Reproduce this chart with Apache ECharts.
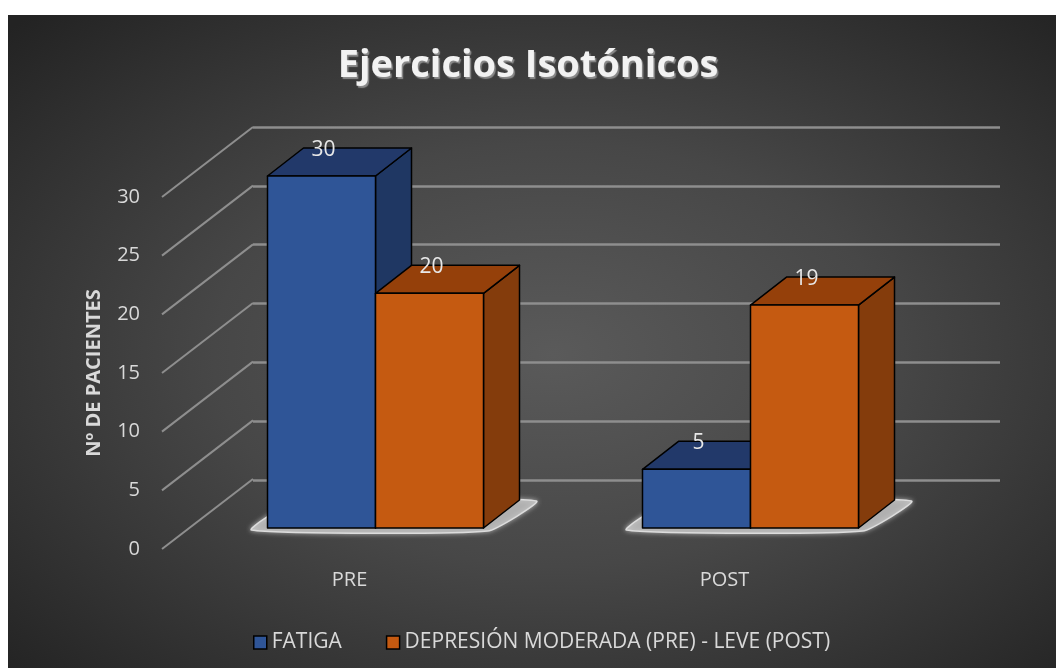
<!DOCTYPE html>
<html>
<head>
<meta charset="utf-8">
<script src="https://cdn.jsdelivr.net/npm/echarts@6/dist/echarts.min.js"></script>
<style>
html,body{margin:0;padding:0;background:#fff;}
#main{width:1056px;height:668px;}
</style>
</head>
<body>
<div id="main"></div>
<script>
var categories = ['PRE', 'POST'];
var fatiga = [30, 5];
var depresion = [20, 19];
var seriesNames = ['FATIGA', 'DEPRESIÓN MODERADA (PRE) - LEVE (POST)'];
var yTicks = [0, 5, 10, 15, 20, 25, 30];

// bar colours: front / top / side
var faces = [
    {front: '#2F5597', top: '#22396A', side: '#1F3763'},
    {front: '#C55A11', top: '#95400A', side: '#843C0C'}
];
var DX = 36, DY = -28;          // bar depth
var WALL_DX = 91, WALL_DY = -70; // front plane -> back wall
var txtColor = '#d9d9d9';
var font = '"Open Sans", "Noto Sans", sans-serif';

var chart = echarts.init(document.getElementById('main'));

function barRenderer(k) {
    return function (params, api) {
        var base = api.coord([api.value(0), 0]);
        var top = api.coord([api.value(0), api.value(1)]);
        var band = api.size([1, 0])[0];
        var w = band * 0.288;
        var x0 = base[0] + (k - 1) * w, x1 = x0 + w;
        var y0 = base[1], y1 = top[1];
        var c = faces[k];
        var edge = {stroke: '#000', lineWidth: 1.5, lineJoin: 'round'};
        return {
            type: 'group',
            children: [
                {type: 'polygon', shape: {points: [[x1, y0], [x1 + DX, y0 + DY], [x1 + DX, y1 + DY], [x1, y1]]},
                    style: Object.assign({fill: c.side}, edge)},
                {type: 'polygon', shape: {points: [[x0, y1], [x1, y1], [x1 + DX, y1 + DY], [x0 + DX, y1 + DY]]},
                    style: Object.assign({fill: c.top}, edge)},
                {type: 'rect', shape: {x: x0, y: y1, width: w, height: y0 - y1},
                    style: Object.assign({fill: c.front}, edge)},
                {type: 'text', x: (x0 + x1) / 2 + 2, y: y1 + DY + 2,
                    style: {text: String(api.value(1)), fill: '#e8e8e8', font: '21px ' + font,
                        align: 'center', verticalAlign: 'middle', textAlign: 'center', textVerticalAlign: 'middle'}}
            ]
        };
    };
}

// light glow on the floor under each pair of bars
function floorRenderer(params, api) {
    var base = api.coord([api.value(0), 0]);
    var band = api.size([1, 0])[0];
    var w = band * 0.288;
    var xl = base[0] - w, xr = base[0] + w, y0 = base[1];
    return {
        type: 'polygon',
        shape: {points: [[xl - 16, y0 + 2], [xr + 4, y0 + 3], [xr + DX + 17, y0 + DY + 1], [xl + DX - 4, y0 + DY]],
            smooth: 0.15},
        style: {fill: '#b0b0b0', stroke: '#dcdcdc', lineWidth: 1.5, shadowBlur: 5, shadowColor: 'rgba(255,255,255,0.5)'}
    };
}

// side wall lines from the value labels to the back wall
function wallRenderer(params, api) {
    var p = api.coord([0, api.value(1)]);
    var band = api.size([1, 0])[0];
    var x = p[0] - band / 2;
    return {
        type: 'line',
        shape: {x1: x, y1: p[1], x2: x + WALL_DX, y2: p[1] + WALL_DY},
        style: {stroke: '#8e8e8e', lineWidth: 2}
    };
}

var option = {
    backgroundColor: '#ffffff',
    animation: false,
    graphic: [{
        type: 'rect', z: -10, silent: true,
        x: 8, y: 15, scaleX: 1048 / 653,
        shape: {x: 0, y: 0, width: 653, height: 653},
        style: {fill: new echarts.graphic.RadialGradient(0.52, 0.52, 0.72, [
            {offset: 0, color: '#5a5a5a'},
            {offset: 0.45, color: '#474747'},
            {offset: 1, color: '#232323'}
        ])}
    }],
    title: {
        text: 'Ejercicios Isotónicos',
        left: 'center', top: 42,
        padding: [5, 0, 5, 16],
        textStyle: {
            color: '#f2f2f2', fontFamily: font, fontWeight: 'bold', fontSize: 38,
            textShadowColor: '#8a8a8a', textShadowOffsetX: 1.5, textShadowOffsetY: 2.5, textShadowBlur: 1
        }
    },
    legend: {
        left: 248, top: 627,
        itemWidth: 13, itemHeight: 13, itemGap: 44,
        icon: 'rect',
        itemStyle: {borderColor: '#000', borderWidth: 1.5},
        textStyle: {color: txtColor, fontSize: 21, fontFamily: font},
        data: seriesNames
    },
    grid: [
        {left: 162, top: 197, width: 750, height: 352},   // front plane (labels)
        {left: 188, top: 176, width: 750, height: 352},   // bars
        {left: 253, top: 127, width: 747, height: 353}    // back wall
    ],
    xAxis: [
        {gridIndex: 0, type: 'category', data: categories,
            axisLine: {show: false}, axisTick: {show: false},
            axisLabel: {color: txtColor, fontSize: 20, fontFamily: font, margin: 21}},
        {gridIndex: 1, type: 'category', data: categories, show: false},
        {gridIndex: 2, type: 'category', data: categories, show: false}
    ],
    yAxis: [
        {gridIndex: 0, type: 'value', min: 0, max: 30, interval: 5,
            name: 'Nº DE PACIENTES', nameLocation: 'middle', nameRotate: 90, nameGap: 58,
            nameTextStyle: {color: txtColor, fontSize: 20, fontWeight: 'bold', fontFamily: font},
            axisLine: {show: false}, axisTick: {show: false}, splitLine: {show: false},
            axisLabel: {color: txtColor, fontSize: 20, fontFamily: font, margin: 22}},
        {gridIndex: 1, type: 'value', min: 0, max: 30, show: false, splitLine: {show: false}},
        {gridIndex: 2, type: 'value', min: 0, max: 30, interval: 5,
            axisLine: {show: false}, axisTick: {show: false}, axisLabel: {show: false},
            splitLine: {show: true, lineStyle: {color: '#8e8e8e', width: 2.5}}}
    ],
    series: [
        {type: 'custom', xAxisIndex: 0, yAxisIndex: 0, renderItem: wallRenderer, silent: true,
            data: yTicks.map(function (v) { return [0, v]; })},
        {type: 'custom', xAxisIndex: 1, yAxisIndex: 1, renderItem: floorRenderer, silent: true,
            data: categories.map(function (c, i) { return [i, 0]; })},
        {type: 'custom', name: seriesNames[0], xAxisIndex: 1, yAxisIndex: 1,
            itemStyle: {color: faces[0].front}, renderItem: barRenderer(0),
            data: fatiga.map(function (v, i) { return [i, v]; })},
        {type: 'custom', name: seriesNames[1], xAxisIndex: 1, yAxisIndex: 1,
            itemStyle: {color: faces[1].front}, renderItem: barRenderer(1),
            data: depresion.map(function (v, i) { return [i, v]; })}
    ]
};
chart.setOption(option);
</script>
</body>
</html>
